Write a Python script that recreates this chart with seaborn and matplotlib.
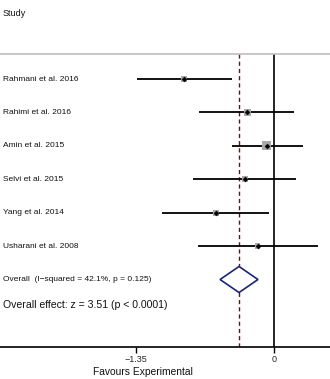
import matplotlib
matplotlib.use("Agg")
import matplotlib.pyplot as plt
import seaborn as sns
import pandas as pd
import numpy as np

sns.set_theme(style="white")
plt.rcParams["font.family"] = ["Liberation Sans", "DejaVu Sans"]

# Study-level effect sizes with 95% confidence intervals
studies = ["Rahmani et al. 2016", "Rahimi et al. 2016", "Amin et al. 2015",
           "Selvi et al. 2015", "Yang et al. 2014", "Usharani et al. 2008"]
effect = [-0.88, -0.26, -0.07, -0.28, -0.57, -0.16]
ci_low = [-1.34, -0.73, -0.41, -0.79, -1.10, -0.74]
ci_high = [-0.41, 0.20, 0.28, 0.22, -0.05, 0.43]
weight = [16, 16, 40, 14, 16, 12]

# Pooled estimate
overall_effect = -0.342
overall_low = -0.528
overall_high = -0.157
overall_label = "Overall  (I\u2212squared = 42.1%, p = 0.125)"
effect_label = "Overall effect: z = 3.51 (p < 0.0001)"

tick_values = [-1.35, 0]
tick_labels = ["\u22121.35", "0"]

df = pd.DataFrame({"study": studies, "effect": effect, "lo": ci_low,
                   "hi": ci_high, "weight": weight})
df["row"] = np.arange(len(df))

fig = plt.figure(figsize=(3.30, 3.79), dpi=100)
ax = fig.add_axes([0, 1 - 347 / 379, 1, 293 / 379])

# Confidence interval whiskers
ax.hlines(df["row"], df["lo"], df["hi"], color="black", lw=1.3, zorder=2)
# Weight boxes
sns.scatterplot(data=df, x="effect", y="row", size="weight", sizes=(16, 44),
                marker="s", color="#a9a9a9", edgecolor="none", legend=False,
                ax=ax, zorder=3)
# Point estimates
sns.scatterplot(data=df, x="effect", y="row", marker="D", s=7, color="black",
                edgecolor="black", legend=False, ax=ax, zorder=4)

# Pooled diamond
orow = len(df)
h = 0.39
ax.fill([overall_low, overall_effect, overall_high, overall_effect],
        [orow, orow - h, orow, orow + h], facecolor="white",
        edgecolor="#1a237e", lw=1.2, zorder=5)

# Reference lines
ax.axvline(0, color="black", lw=1.2, zorder=1)
ax.axvline(overall_effect, color="#7b0a0a", lw=1.0, ls=(0, (3, 2.2)), zorder=1)

# Study labels
for r, name in zip(df["row"], df["study"]):
    ax.text(-2.65, r, name, fontsize=6.0, va="center", ha="left", color="#111111")
ax.text(-2.65, orow, overall_label, fontsize=6.0, va="center", ha="left",
        color="#111111")
ax.text(-2.65, orow + 0.75, effect_label, fontsize=7.6, va="center", ha="left",
        color="#111111")

ax.set_xlim(-274 / 102.2, 56 / 102.2)
ax.set_ylim(8.02, -0.75)

for s in ["left", "right"]:
    ax.spines[s].set_visible(False)
ax.spines["top"].set_color("#bdbdbd")
ax.spines["top"].set_linewidth(1.2)
ax.spines["bottom"].set_color("black")
ax.spines["bottom"].set_linewidth(1.2)

ax.set_yticks([])
ax.set_xticks(tick_values)
ax.set_xticklabels(tick_labels, fontsize=6.5)
ax.tick_params(axis="x", direction="out", length=4, width=1, color="black",
               bottom=True, pad=1.5)
ax.set_xlabel("")
ax.set_ylabel("")

fig.text(3 / 330, 1 - 14 / 379, "Study", fontsize=6.5, va="center", ha="left",
         color="#111111")
fig.text(143 / 330, 1 - 372 / 379, "Favours Experimental", fontsize=7.4,
         va="center", ha="center", color="#111111")

fig.savefig("out.png", dpi=100, facecolor="white")
